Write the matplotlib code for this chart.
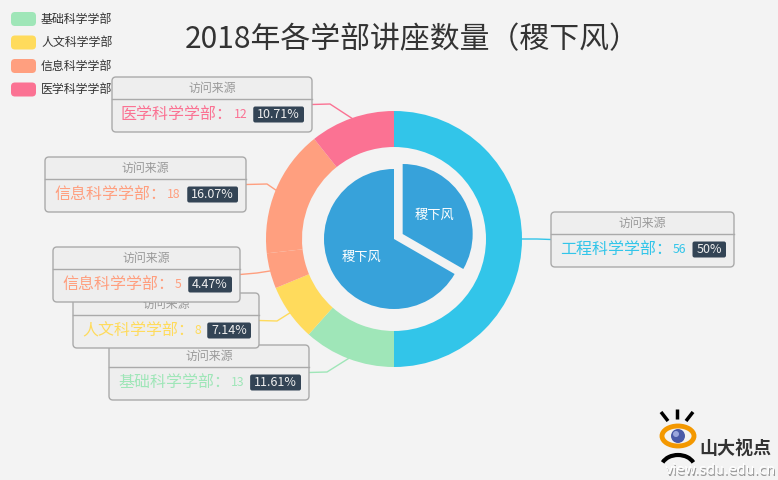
import numpy as np
import matplotlib
matplotlib.use('Agg')
import matplotlib.pyplot as plt
from matplotlib.patches import FancyBboxPatch, Ellipse, Circle, Arc

plt.rcParams['font.family'] = ['Noto Sans CJK SC', 'DejaVu Sans']

#####################
####### DATA ########
#####################

title = '2018年各学部讲座数量（稷下风）'
outer_names = ['工程科学学部', '基础科学学部', '人文科学学部', '信息科学学部', '信息科学学部', '医学科学学部']
outer_values = [56, 13, 8, 5, 18, 12]
outer_colors = ['#32c5e9', '#9fe6b8', '#ffdb5c', '#ff9f7f', '#ff9f7f', '#fb7293']
inner_names = ['稷下风', '稷下风']
inner_values = [1, 2]
legend_names = ['基础科学学部', '人文科学学部', '信息科学学部', '医学科学学部']
legend_colors = ['#9fe6b8', '#ffdb5c', '#ff9f7f', '#fb7293']
label_header = '访问来源'

#####################
###### LAYOUT #######
#####################

W, H = 778, 480
cx, cy = 394, 239
r_out, ring_w, r_in = 128, 36, 70
box_left = [551, 109, 73, 53, 45, 112]
box_right = [734, 309, 259, 240, 246, 312]
box_top = [212, 345, 293, 247, 157, 77]
box_h = 55
bend = [(537, 239), (327, 372), (277, 321), (257, 273), (267, 184), (330, 104)]
box_z = [5, 5, 6, 7, 5, 8]


# percentages rounded so they add up to 100 (largest remainder)
def percents(vals, digits=2):
    scale = 10 ** digits
    raw = [v / sum(vals) * 100 * scale for v in vals]
    fl = [int(np.floor(r)) for r in raw]
    left = 100 * scale - sum(fl)
    order = sorted(range(len(vals)), key=lambda i: -(raw[i] - fl[i]))
    for i in order[:left]:
        fl[i] += 1
    return [f / scale for f in fl]


fig = plt.figure(figsize=(W / 100, H / 100), dpi=100, facecolor='#f3f3f3')
ax = fig.add_axes([0, 0, 1, 1])
ax.set_facecolor('#f3f3f3')

#outer ring (y axis is flipped, so counterclock=True draws clockwise)
wedges, _ = ax.pie(outer_values, colors=outer_colors, center=(cx, cy), radius=r_out,
                   startangle=-90, counterclock=True, frame=True,
                   wedgeprops=dict(width=ring_w, linewidth=0))

#inner pie, small slice pulled out by 10 px
ax.pie(inner_values, colors=['#37a2da'] * 2, center=(cx, cy), radius=r_in,
       startangle=-90, counterclock=True, explode=[10, 0], frame=True,
       labels=inner_names, labeldistance=0.53,
       textprops=dict(color='white', fontsize=9.5, ha='center', va='center'),
       wedgeprops=dict(linewidth=0))

ax.set_xlim(0, W)
ax.set_ylim(H, 0)
ax.set_aspect('auto')
ax.axis('off')

renderer = fig.canvas.get_renderer()
pcts = percents(outer_values)

#rich labels
for i, w in enumerate(wedges):
    col = outer_colors[i]
    ang = np.deg2rad((w.theta1 + w.theta2) / 2)
    px, py = cx + r_out * np.cos(ang), cy + r_out * np.sin(ang)
    l, t, r = box_left[i], box_top[i], box_right[i]
    z = box_z[i]
    ym = t + box_h / 2
    xa = l if l > cx else r
    ax.plot([px, bend[i][0], xa], [py, bend[i][1], ym], color=col, lw=1, zorder=2)

    ax.add_patch(FancyBboxPatch((l, t), r - l, box_h, boxstyle='round,pad=0,rounding_size=4',
                                fc='#eeeeee', ec='#aaaaaa', lw=1, zorder=z))
    ax.plot([l, r], [t + 21.5, t + 21.5], color='#aaaaaa', lw=1, zorder=z + 0.05)
    ax.text((l + r) / 2, t + 11, label_header, color='#999999', fontsize=8.6,
            ha='center', va='center', zorder=z + 0.1)
    yb = t + 37.5
    ax.text(l + 9, yb, outer_names[i] + '：', color=col, fontsize=11.5,
            ha='left', va='center', zorder=z + 0.1)
    ax.text(l + 122, yb, str(outer_values[i]), color=col, fontsize=8.8,
            ha='left', va='center', zorder=z + 0.1)
    pt = ax.text(r - 12, yb, f'{pcts[i]:g}%', color='#eeeeee', fontsize=9,
                 ha='right', va='center', zorder=z + 0.3)
    bw = pt.get_window_extent(renderer).width + 8
    ax.add_patch(FancyBboxPatch((r - 8 - bw, yb - 8), bw, 16, boxstyle='round,pad=0,rounding_size=2',
                                fc='#334455', ec='none', zorder=z + 0.2))

#legend
for i, (n, c) in enumerate(zip(legend_names, legend_colors)):
    y = 19 + i * 23.5
    ax.add_patch(FancyBboxPatch((11, y - 7), 25, 14, boxstyle='round,pad=0,rounding_size=4',
                                fc=c, ec='none', zorder=3))
    ax.text(41, y, n, fontsize=8.6, color='#333333', ha='left', va='center', zorder=3)

#title
ax.text(412, 40, title, fontsize=21.5, fontweight='light', color='#333333', ha='center', va='center')

#logo
for x0, y0, x1, y1 in [(661, 412, 668, 421), (677, 409, 677, 419), (693, 412, 686, 421)]:
    ax.plot([x0, x1], [y0, y1], color='black', lw=2.5, solid_capstyle='butt', zorder=4)
ax.add_patch(Ellipse((678, 436), 32, 20, fc='none', ec='#f39800', lw=3.5, zorder=4))
ax.add_patch(Circle((678, 436), 7, fc='#4a5aa8', ec='none', zorder=5))
ax.add_patch(Circle((676, 434), 3, fc='#9aa6dd', ec='none', zorder=5))
ax.add_patch(Arc((678, 468), 34, 26, theta1=200, theta2=340, ec='black', lw=3, zorder=4))
ax.text(735, 449, '山大视点', fontsize=13, fontweight='bold', color='#333333',
        ha='center', va='center', zorder=4)
ax.text(721.5, 471.5, 'view.sdu.edu.cn', fontsize=10, color='#999999', family=['DejaVu Sans'],
        ha='center', va='center', zorder=4)
ax.text(720, 470, 'view.sdu.edu.cn', fontsize=10, color='white', family=['DejaVu Sans'],
        ha='center', va='center', zorder=4)

fig.savefig('out.png', dpi=100, facecolor=fig.get_facecolor())
